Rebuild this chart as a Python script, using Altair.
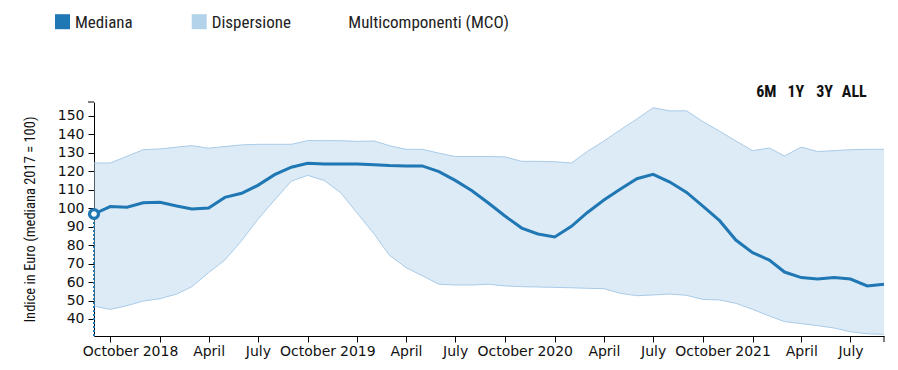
import altair as alt
import pandas as pd

# Monthly observations, Sep 2017 .. Sep 2021
months = [f"{y}-{m:02d}-01T00:00:00" for y in range(2017, 2022) for m in range(1, 13)]
months = [d for d in months if "2017-09-01" <= d[:10] <= "2021-09-01"]

median = [96.8, 100.8, 100.5, 102.9, 103.1, 101.1, 99.5, 100.1, 105.8, 108.0,
          112.3, 118.1, 122.1, 124.2, 123.9, 123.9, 123.9, 123.5, 123.0, 122.8,
          122.8, 119.7, 115.0, 109.4, 102.6, 95.7, 89.2, 86.0, 84.4, 90.1,
          97.5, 104.4, 110.2, 115.9, 118.3, 114.1, 108.5, 101.1, 93.2, 82.7,
          75.9, 71.9, 65.4, 62.4, 61.6, 62.5, 61.6, 57.9, 58.8]
upper = [124.4, 124.4, 128.0, 131.6, 132.0, 133.0, 133.8, 132.4, 133.3, 134.2,
         134.5, 134.5, 134.5, 136.5, 136.5, 136.5, 136.1, 136.3, 133.8, 131.8,
         131.8, 129.7, 127.9, 127.9, 127.9, 127.7, 125.3, 125.3, 125.1, 124.4,
         130.6, 136.3, 142.3, 148.2, 154.3, 152.6, 152.6, 146.8, 141.6, 136.3,
         131.1, 132.5, 128.2, 133.0, 130.6, 131.1, 131.6, 131.8, 131.8]
lower = [47.0, 45.2, 47.2, 49.7, 51.0, 53.5, 57.5, 65.1, 71.9, 82.4,
         93.9, 104.4, 114.6, 117.7, 114.9, 108.4, 97.2, 86.0, 74.6, 67.8,
         63.4, 58.8, 58.4, 58.4, 58.8, 57.9, 57.5, 57.3, 57.1, 56.9,
         56.6, 56.4, 53.9, 52.6, 53.0, 53.5, 52.8, 50.6, 50.3, 48.5,
         45.2, 41.6, 38.6, 37.5, 36.4, 35.1, 33.1, 32.0, 31.7]

legend_labels = ["Mediana", "Dispersione", "Multicomponenti (MCO)"]
range_buttons = ["6M", "1Y", "3Y", "ALL"]
y_ticks = list(range(40, 151, 10))
y_title = "Indice in Euro (mediana 2017 = 100)"

df = pd.DataFrame({"date": months, "median": median, "upper": upper, "lower": lower})
first = df.iloc[[0]]

W, H = 790, 234
BLUE = "#1f77b4"
BAND = "#b3d3ea"
EDGE = "#a9cbe8"
COND = "Roboto Condensed, Liberation Sans Narrow, Arial Narrow, Roboto"
AXF = "DejaVu Sans"

xscale = alt.Scale(domain=[alt.DateTime(year=2017, month=9, date=1),
                           alt.DateTime(year=2021, month=9, date=1)], nice=False)
yscale = alt.Scale(domain=[30.8, 157.4], nice=False, zero=False)

xaxis = alt.Axis(tickCount={"interval": "month", "step": 3}, grid=False,
                 labelFont=AXF, labelFontSize=14, labelColor="#111",
                 domainColor="#000", tickColor="#000", tickSize=6,
                 labelPadding=2, labelFlush=False, labelOverlap=False, title=None)
yaxis = alt.Axis(values=y_ticks, grid=False, labelFont=AXF, labelFontSize=14,
                 labelColor="#111", domainColor="#000", tickColor="#000",
                 tickSize=6, labelPadding=4, title=y_title, titleFont=COND,
                 titleFontSize=14.5, titleFontWeight="normal", titleColor="#111",
                 titleX=-60, titleY=H / 2, titleAngle=270, titleBaseline="alphabetic",
                 titleAlign="center")


def X():
    return alt.X("date:T", scale=xscale, axis=xaxis)


def Y(field):
    return alt.Y(field, type="quantitative", scale=yscale, axis=yaxis)


base = alt.Chart(df)

area = base.mark_area(color=BAND, opacity=0.45).encode(
    x=X(), y=Y("upper"), y2="lower:Q")
up_line = base.mark_line(color=EDGE, strokeWidth=1).encode(x=X(), y=Y("upper"))
lo_line = base.mark_line(color=EDGE, strokeWidth=1).encode(x=X(), y=Y("lower"))
med_line = base.mark_line(color=BLUE, strokeWidth=3).encode(x=X(), y=Y("median"))

drop = alt.Chart(first).mark_rule(color=BLUE, strokeWidth=2, strokeDash=[2, 2]).encode(
    x=X(), y=Y("median"), y2=alt.value(H))
marker = alt.Chart(first).mark_point(shape="circle", size=80, filled=True, fill="white",
                                     stroke=BLUE, strokeWidth=3.3, opacity=1).encode(
    x=X(), y=Y("median"))

# outer ticks of the axes' domain paths
one = pd.DataFrame({"k": [0]})
tick_end = alt.Chart(one).mark_rule(color="#000", strokeWidth=1).encode(
    x=alt.value(W), y=alt.value(H), y2=alt.value(H + 6))
tick_top = alt.Chart(one).mark_rule(color="#000", strokeWidth=1).encode(
    x=alt.value(-6), x2=alt.value(0), y=alt.value(0))

# legend
layers = [area, up_line, lo_line, med_line, drop, marker, tick_end, tick_top]
sq_colors = [BLUE, BAND]
sq_x = [-31.5, 105.2]
for c, xv in zip(sq_colors, sq_x):
    layers.append(alt.Chart(one).mark_square(size=225, color=c, opacity=1).encode(
        x=alt.value(xv), y=alt.value(-80.3)))
lab_x = [-19, 117.7, 254.3]
for t, xv in zip(legend_labels, lab_x):
    layers.append(alt.Chart(pd.DataFrame({"t": [t]})).mark_text(
        align="left", baseline="alphabetic", font=COND, fontSize=17, color="#222").encode(
        text="t:N", x=alt.value(xv), y=alt.value(-73.7)))
btn_x = [672.3, 701.8, 730.5, 760.3]
for t, xv in zip(range_buttons, btn_x):
    layers.append(alt.Chart(pd.DataFrame({"t": [t]})).mark_text(
        align="center", baseline="alphabetic", font=COND, fontSize=16,
        fontWeight="bold", color="#111").encode(
        text="t:N", x=alt.value(xv), y=alt.value(-4.7)))

chart = alt.layer(*layers).properties(
    width=W, height=H,
    autosize=alt.AutoSizeParams(type="none"),
    padding={"left": 86, "top": 94, "right": 6, "bottom": 26},
).configure_view(stroke=None)

chart.save("out.html", embed_options={"renderer": "svg", "actions": False})
